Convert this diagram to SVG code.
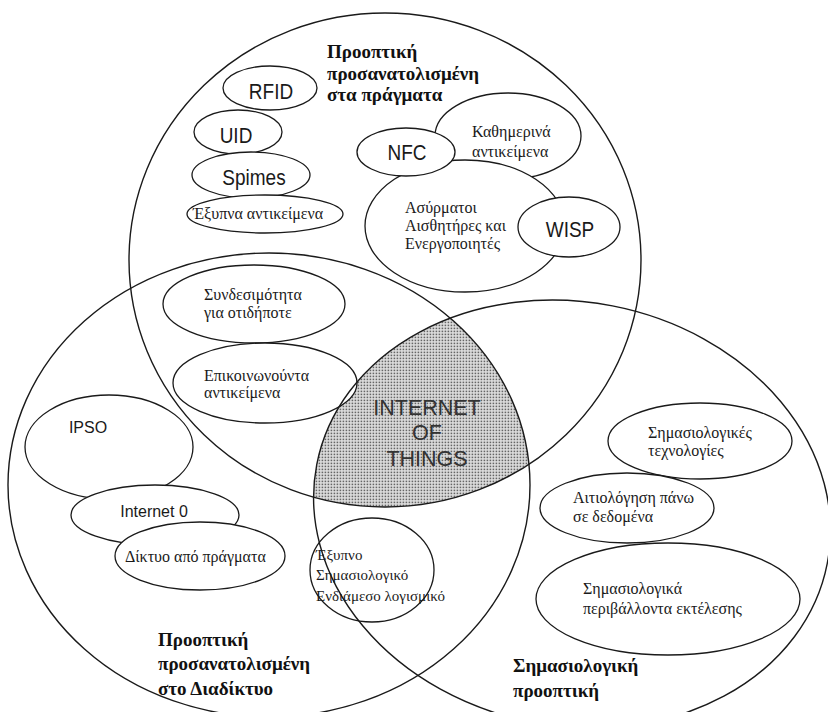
<svg xmlns="http://www.w3.org/2000/svg" width="828" height="712" viewBox="0 0 828 712">
<style>
.big{fill:none;stroke:#1a1a1a;stroke-width:1.4}
.sm{fill:#fff;stroke:#1a1a1a;stroke-width:1.3}
.gr{font-family:"Liberation Serif","DejaVu Serif",serif;font-size:16px;fill:#1a1a1a}
.grs{font-family:"Liberation Serif","DejaVu Serif",serif;font-size:15px;fill:#1a1a1a}
.lb{font-family:"Liberation Sans",Arial,sans-serif;font-size:19px;fill:#1a1a1a;text-anchor:middle}
.lbs{font-family:"Liberation Sans",Arial,sans-serif;font-size:16px;fill:#1a1a1a;text-anchor:middle}
.hd{font-family:"Liberation Serif","DejaVu Serif",serif;font-size:19px;font-weight:bold;fill:#111}
.iot{font-family:"Liberation Sans",Arial,sans-serif;font-size:21.5px;fill:#333;text-anchor:middle}
</style>
<defs>
<pattern id="dots" width="3" height="3" patternUnits="userSpaceOnUse"><rect width="3" height="3" fill="#e0e0e0"/><rect x="0.6" y="0.6" width="1.6" height="1.6" fill="#666"/></pattern>
<clipPath id="clipL"><ellipse cx="269" cy="485" rx="261" ry="232"/></clipPath>
<clipPath id="clipR"><ellipse cx="572" cy="514" rx="260" ry="212" transform="rotate(11 572 514)"/></clipPath>
</defs>
<rect width="828" height="712" fill="#fff"/>
<g id="iot-core">
<g clip-path="url(#clipL)"><g clip-path="url(#clipR)"><ellipse cx="385" cy="260" rx="256" ry="247" fill="url(#dots)"/></g></g>
</g>
<g id="things-items">
<g id="rfid"><ellipse class="sm" cx="270" cy="88" rx="47" ry="22"/><text class="lb" transform="translate(271 99) scale(1 1.2)">RFID</text></g>
<g id="uid"><ellipse class="sm" cx="238" cy="132" rx="44" ry="22"/><text class="lb" transform="translate(236 143) scale(1 1.2)">UID</text></g>
<g id="spimes"><ellipse class="sm" cx="251" cy="175" rx="59" ry="23"/><text class="lb" transform="translate(254 185) scale(1 1.2)">Spimes</text></g>
<g id="smart-items"><ellipse class="sm" cx="265" cy="214" rx="78" ry="19"/><text class="gr" x="193" y="219">Έξυπνα αντικείμενα</text></g>
<g id="everyday"><ellipse class="sm" cx="508" cy="136" rx="73" ry="43"/><text class="gr" x="472" y="137">Καθημερινά</text><text class="gr" x="472" y="157">αντικείμενα</text></g>
<g id="wsan"><ellipse class="sm" cx="465" cy="226" rx="100" ry="66"/><text class="gr" x="405" y="213">Ασύρματοι</text><text class="gr" x="405" y="231">Αισθητήρες και</text><text class="gr" x="405" y="249">Ενεργοποιητές</text></g>
<g id="nfc"><ellipse class="sm" cx="406" cy="152" rx="49" ry="24"/><text class="lb" transform="translate(407 160) scale(1 1.2)">NFC</text></g>
<g id="wisp"><ellipse class="sm" cx="569" cy="227" rx="51" ry="30"/><text class="lb" transform="translate(570 237) scale(1 1.2)">WISP</text></g>
</g>
<g id="internet-items">
<g id="connectivity"><ellipse class="sm" cx="254" cy="304" rx="91" ry="39"/><text class="gr" x="204" y="300">Συνδεσιμότητα</text><text class="gr" x="204" y="318">για οτιδήποτε</text></g>
<g id="communicating"><ellipse class="sm" cx="265" cy="383" rx="92" ry="40"/><text class="gr" x="204" y="381">Επικοινωνούντα</text><text class="gr" x="204" y="398">αντικείμενα</text></g>
<g id="ipso"><ellipse class="sm" cx="109" cy="447" rx="84" ry="52"/><text class="lbs" x="88" y="433">IPSO</text></g>
<g id="internet0"><ellipse class="sm" cx="155" cy="515" rx="84" ry="30"/><text class="lbs" x="154" y="517">Internet 0</text></g>
<g id="wot"><ellipse class="sm" cx="200" cy="556" rx="85" ry="34"/><text class="gr" x="125" y="562">Δίκτυο από πράγματα</text></g>
</g>
<g id="semantic-items">
<g id="sem-tech"><ellipse class="sm" cx="700" cy="441" rx="92" ry="38"/><text class="gr" x="648" y="438">Σημασιολογικές</text><text class="gr" x="648" y="456">τεχνολογίες</text></g>
<g id="reasoning"><ellipse class="sm" cx="627" cy="508" rx="87" ry="35"/><text class="gr" x="573" y="503">Αιτιολόγηση πάνω</text><text class="gr" x="573" y="522">σε δεδομένα</text></g>
<g id="sem-env"><ellipse class="sm" cx="668" cy="599" rx="132" ry="56"/><text class="gr" x="583" y="594">Σημασιολογικά</text><text class="gr" x="583" y="614">περιβάλλοντα εκτέλεσης</text></g>
<g id="middleware"><ellipse class="sm" cx="372" cy="570" rx="62" ry="52"/><text class="grs" x="316" y="560">Έξυπνο</text><text class="grs" x="316" y="580">Σημασιολογικό</text><text class="grs" x="316" y="601">Ενδιάμεσο λογισμικό</text></g>
</g>
<g id="connectors">
<ellipse class="big" cx="385" cy="260" rx="256" ry="247"/>
<ellipse class="big" cx="269" cy="485" rx="261" ry="232"/>
<ellipse class="big" cx="572" cy="514" rx="260" ry="212" transform="rotate(11 572 514)"/>
</g>
<g id="labels">
<text class="iot" x="427" y="415">INTERNET</text>
<text class="iot" x="427" y="440">OF</text>
<text class="iot" x="427" y="466">THINGS</text>
<text class="hd" x="327" y="58">Προοπτική</text>
<text class="hd" x="327" y="80">προσανατολισμένη</text>
<text class="hd" x="327" y="101">στα πράγματα</text>
<text class="hd" x="158" y="646">Προοπτική</text>
<text class="hd" x="158" y="670">προσανατολισμένη</text>
<text class="hd" x="158" y="695">στο Διαδίκτυο</text>
<text class="hd" x="513" y="672">Σημασιολογική</text>
<text class="hd" x="513" y="697">προοπτική</text>
</g>
</svg>
